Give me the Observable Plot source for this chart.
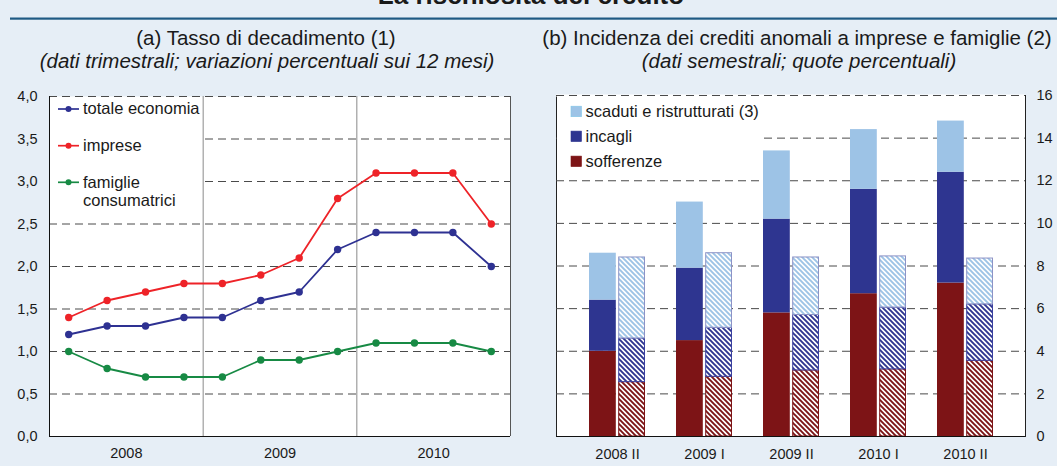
<!DOCTYPE html>
<html><head><meta charset="utf-8">
<script src="https://cdn.jsdelivr.net/npm/d3@7"></script>
<script src="https://cdn.jsdelivr.net/npm/@observablehq/plot@0.6"></script>
<style>
html,body{margin:0;padding:0;background:#e6eef6;}
#root{position:relative;width:1057px;height:466px;overflow:hidden;background:#e6eef6;font-family:"Liberation Sans",Arial,sans-serif;color:#1a1a1a;}
#root svg{position:absolute;}
</style></head><body><div id="root"></div>
<script>
// ---------- DATA ----------
const mainTitle = "La rischiosità del credito";
const titleA = "(a) Tasso di decadimento (1)";
const subtitleA = "(dati trimestrali; variazioni percentuali sui 12 mesi)";
const titleB = "(b) Incidenza dei crediti anomali a imprese e famiglie (2)";
const subtitleB = "(dati semestrali; quote percentuali)";

const quarters = ["2008 T1","2008 T2","2008 T3","2008 T4","2009 T1","2009 T2","2009 T3","2009 T4","2010 T1","2010 T2","2010 T3","2010 T4"];
const years = ["2008","2009","2010"];
const seriesNames = ["totale economia","imprese","famiglie consumatrici"];
const legendLabelsA = ["totale economia","imprese","famiglie\nconsumatrici"];
const seriesColors = ["#2e3192","#ee2328","#178a44"];
const totaleEconomia = [1.2,1.3,1.3,1.4,1.4,1.6,1.7,2.2,2.4,2.4,2.4,2.0];
const imprese = [1.4,1.6,1.7,1.8,1.8,1.9,2.1,2.8,3.1,3.1,3.1,2.5];
const famiglieConsumatrici = [1.0,0.8,0.7,0.7,0.7,0.9,0.9,1.0,1.1,1.1,1.1,1.0];
const yTicksA = [0,0.5,1,1.5,2,2.5,3,3.5,4];

const periods = ["2008 II","2009 I","2009 II","2010 I","2010 II"];
const components = ["sofferenze","incagli","scaduti e ristrutturati (3)"];
const componentColors = ["#7d1416","#2e3590","#9dc3e6"];
const hatchOutline = ["#7d1416","#3a40a0","#8d93c6"];
// solid bars
const sofferenzeSolid = [4.0,4.5,5.8,6.7,7.2];
const incagliSolid = [2.4,3.4,4.4,4.9,5.2];
const scadutiSolid = [2.2,3.1,3.2,2.8,2.4];
// hatched bars
const sofferenzeHatch = [2.55,2.8,3.1,3.15,3.55];
const incagliHatch = [2.05,2.3,2.6,2.9,2.65];
const scadutiHatch = [3.8,3.5,2.7,2.4,2.15];
const yTicksB = [0,2,4,6,8,10,12,14,16];

// ---------- BUILD ----------
const FONT = '"Liberation Sans", Arial, sans-serif';
const root = document.getElementById("root");

const qx = q => { const [y, t] = q.split(" T"); return +y + (+t - 0.5) / 4; };
const seriesValues = [totaleEconomia, imprese, famiglieConsumatrici];
const lineData = seriesNames.flatMap((name, s) =>
  seriesValues[s].map((v, i) => ({name, x: qx(quarters[i]), y: v})));

const chartA = Plot.plot({
  width: 530, height: 381,
  marginLeft: 49, marginRight: 20, marginTop: 11, marginBottom: 30,
  style: {background: "transparent", fontFamily: FONT, fontSize: "14.5px", color: "#1a1a1a", overflow: "visible"},
  x: {domain: [2008, 2011], axis: null},
  y: {domain: [0, 4], axis: null},
  color: {domain: seriesNames, range: seriesColors},
  marks: [
    Plot.frame({fill: "white", stroke: null}),
    Plot.ruleY(yTicksA.filter(d => d > 0), {stroke: "#4a4a4a", strokeDasharray: "8,5"}),
    Plot.ruleX(years.slice(1).map(Number), {stroke: "#8a8a8a"}),
    Plot.ruleX([2011], {stroke: "#555"}),
    Plot.ruleX([2008], {stroke: "#111"}),
    Plot.ruleY([0], {stroke: "#111"}),
    Plot.axisY(yTicksA, {label: null, tickSize: 0, tickPadding: 12, tickFormat: d => d.toFixed(1).replace(".", ",")}),
    Plot.axisX(years.map(y => +y + 0.5), {label: null, tickSize: 0, tickPadding: 11, tickFormat: d => String(Math.floor(d))}),
    Plot.line(lineData, {x: "x", y: "y", stroke: "name", strokeWidth: 1.8}),
    Plot.dot(lineData, {x: "x", y: "y", fill: "name", r: 3.7})
  ]
});
chartA.style.left = "0px"; chartA.style.top = "85px";
root.appendChild(chartA);

const compValsSolid = [sofferenzeSolid, incagliSolid, scadutiSolid];
const compValsHatch = [sofferenzeHatch, incagliHatch, scadutiHatch];
const solidRows = periods.flatMap((p, i) => components.map((c, k) =>
  ({period: p, component: c, value: compValsSolid[k][i], fill: componentColors[k]})));
const hatchRows = periods.flatMap((p, i) => components.map((c, k) =>
  ({period: p, component: c, value: compValsHatch[k][i], fill: `url(#hatch-${k})`, stroke: hatchOutline[k]})));

const chartB = Plot.plot({
  width: 527, height: 381,
  marginLeft: 26, marginRight: 32, marginTop: 10, marginBottom: 30,
  style: {background: "transparent", fontFamily: FONT, fontSize: "14.5px", color: "#1a1a1a", overflow: "visible"},
  x: {domain: periods, paddingInner: 0.36, paddingOuter: 0.35, axis: null},
  y: {domain: [0, 16], axis: null},
  color: {type: "identity"},
  marks: [
    Plot.frame({fill: "white", stroke: "#222"}),
    Plot.ruleY([16], {stroke: "white", strokeWidth: 2}),
    Plot.ruleY(yTicksB.filter(d => d > 0), {stroke: "#4a4a4a", strokeDasharray: "8,5"}),
    Plot.barY(solidRows, Plot.stackY({x: "period", y: "value", z: "component", fill: "fill", insetRight: 29.2})),
    Plot.barY(hatchRows, Plot.stackY({x: "period", y: "value", z: "component", fill: "fill", stroke: "stroke", strokeWidth: 1, insetLeft: 29.7, insetRight: 0.5})),
    Plot.ruleY([0], {stroke: "#111"}),
    Plot.axisY(yTicksB, {anchor: "right", label: null, tickSize: 0, tickPadding: 11}),
    Plot.axisX(periods, {label: null, tickSize: 0, tickPadding: 12})
  ]
});
const defs = document.createElementNS("http://www.w3.org/2000/svg", "defs");
defs.innerHTML = componentColors.map((col, k) =>
  `<pattern id="hatch-${k}" patternUnits="userSpaceOnUse" width="5" height="5">
     <rect width="5" height="5" fill="white"/>
     <path d="M-1,-1L6,6M-1,4L1,6M4,-1L6,1" stroke="${col}" stroke-width="1.9"/>
   </pattern>`).join("");
chartB.insertBefore(defs, chartB.firstChild);
chartB.style.left = "530px"; chartB.style.top = "85px";
root.appendChild(chartB);

// ---------- TITLES & LEGENDS ----------
const ov = d3.create("svg").attr("width", 1057).attr("height", 466)
  .style("left", "0px").style("top", "0px").style("pointer-events", "none")
  .style("font-family", FONT).attr("fill", "#1a1a1a");
ov.append("text").attr("x", 531).attr("y", 4).attr("text-anchor", "middle")
  .attr("font-weight", "bold").attr("font-size", 26).text(mainTitle);
ov.append("rect").attr("x", 10).attr("y", 17.5).attr("width", 1047).attr("height", 2.2).attr("fill", "#1f5a84");
ov.append("text").attr("x", 266).attr("y", 45).attr("text-anchor", "middle").attr("font-size", 20.5).text(titleA);
ov.append("text").attr("x", 267).attr("y", 68).attr("text-anchor", "middle").attr("font-size", 20.5).attr("font-style", "italic").text(subtitleA);
ov.append("text").attr("x", 797).attr("y", 45).attr("text-anchor", "middle").attr("font-size", 20.5).text(titleB);
ov.append("text").attr("x", 799).attr("y", 68).attr("text-anchor", "middle").attr("font-size", 20.5).attr("font-style", "italic").text(subtitleB);

// legend A (white box hides gridlines behind it)
ov.append("rect").attr("x", 50).attr("y", 98).attr("width", 152).attr("height", 116).attr("fill", "white");
const legAY = [109, 145.7, 182.3];
legendLabelsA.forEach((lab, i) => {
  const g = ov.append("g");
  g.append("line").attr("x1", 58).attr("x2", 79).attr("y1", legAY[i]).attr("y2", legAY[i])
    .attr("stroke", seriesColors[i]).attr("stroke-width", 1.7);
  g.append("circle").attr("cx", 68.5).attr("cy", legAY[i]).attr("r", 3).attr("fill", seriesColors[i]);
  const t = g.append("text").attr("x", 83).attr("y", legAY[i] + 5.2).attr("font-size", 16.5);
  lab.split("\n").forEach((part, j) => t.append("tspan").attr("x", 83).attr("dy", j ? 18.4 : 0).text(part));
});

// legend B (top to bottom: scaduti, incagli, sofferenze)
ov.append("rect").attr("x", 557).attr("y", 97).attr("width", 204).attr("height", 76).attr("fill", "white");
const legBY = [116.7, 141.6, 166.6];
[2, 1, 0].forEach((k, r) => {
  ov.append("rect").attr("x", 571).attr("y", legBY[r] - 10.5).attr("width", 10.5).attr("height", 10.5)
    .attr("fill", componentColors[k]).attr("stroke", k === 2 ? "#7fc6e8" : componentColors[k]).attr("stroke-width", 0.6);
  ov.append("text").attr("x", 585.5).attr("y", legBY[r]).attr("font-size", 16.5).text(components[k]);
});
root.appendChild(ov.node());
</script></body></html>
